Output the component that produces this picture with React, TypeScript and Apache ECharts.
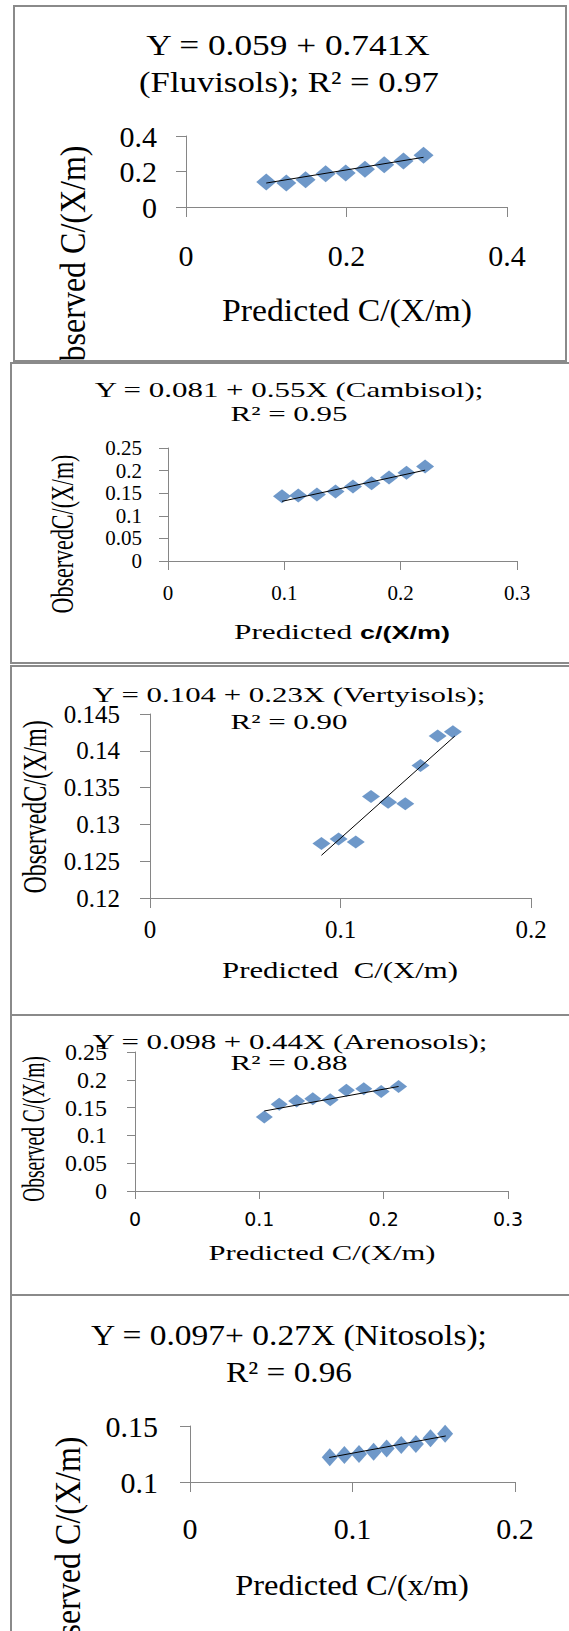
import React, { useEffect, useRef } from 'react';
import * as echarts from 'echarts';

const SERIF = "'Liberation Serif', 'Times New Roman', serif";
const SANS = "'DejaVu Sans', Verdana, sans-serif";
const ARIAL = "'Liberation Sans', Arial, sans-serif";
const MARKER = '#4A7EBB';
const AXIS = '#868686';

// ---- Data ----
const fluvisolsX = [0.100, 0.125, 0.149, 0.174, 0.199, 0.223, 0.247, 0.271, 0.296];
const fluvisolsY = [0.141, 0.135, 0.154, 0.188, 0.191, 0.212, 0.238, 0.259, 0.291];
const fluvisolsTrendX = [0.100, 0.296];
const fluvisolsTrendY = [0.135, 0.280];
const fluvisolsXRange = [0, 0.4, 0.2];
const fluvisolsYRange = [0, 0.4, 0.2];

const cambisolX = [0.098, 0.112, 0.128, 0.144, 0.159, 0.175, 0.190, 0.205, 0.221];
const cambisolY = [0.143, 0.145, 0.147, 0.154, 0.165, 0.172, 0.185, 0.195, 0.209];
const cambisolTrendX = [0.098, 0.221];
const cambisolTrendY = [0.132, 0.201];
const cambisolXRange = [0, 0.3, 0.1];
const cambisolYRange = [0, 0.25, 0.05];

const vertisolX = [0.090, 0.099, 0.108, 0.116, 0.125, 0.134, 0.142, 0.151, 0.159];
const vertisolY = [0.1274, 0.1280, 0.1276, 0.1338, 0.1330, 0.1328, 0.1380, 0.1420, 0.1426];
const vertisolTrendX = [0.090, 0.160];
const vertisolTrendY = [0.1258, 0.1420];
const vertisolXRange = [0, 0.2, 0.1];
const vertisolYRange = [0.12, 0.145, 0.005];

const arenosolX = [0.104, 0.116, 0.130, 0.143, 0.157, 0.170, 0.184, 0.198, 0.212];
const arenosolY = [0.133, 0.156, 0.162, 0.166, 0.164, 0.181, 0.184, 0.179, 0.188];
const arenosolTrendX = [0.104, 0.212];
const arenosolTrendY = [0.1439, 0.188];
const arenosolXRange = [0, 0.3, 0.1];
const arenosolYRange = [0, 0.25, 0.05];

const nitosolX = [0.086, 0.095, 0.104, 0.113, 0.121, 0.130, 0.139, 0.148, 0.157];
const nitosolY = [0.122, 0.124, 0.125, 0.127, 0.130, 0.133, 0.134, 0.139, 0.143];
const nitosolTrendX = [0.0857, 0.1574];
const nitosolTrendY = [0.1219, 0.1411];
const nitosolXRange = [0, 0.2, 0.1];
const nitosolYRange = [0.1, 0.15, 0.05];

// ---- Panel layout (page coordinates) ----
type TextSpec = { text: string; x: number; y: number; size: number; width?: number; scaleY?: number; rich?: any; family?: string };

const panels = [
  {
    box: { left: 13, top: 5, width: 554, height: 357 },
    plot: { x0: 186, x1: 507, yTop: 136, yBottom: 207 },
    xs: fluvisolsX, ys: fluvisolsY, tx: fluvisolsTrendX, ty: fluvisolsTrendY,
    xr: fluvisolsXRange, yr: fluvisolsYRange,
    symbol: [20, 17],
    tick: { xFamily: SERIF, xSize: 30, xMargin: 33, yFamily: SERIF, ySize: 30, yMargin: 29, len: 10 },
    titles: [
      { text: 'Y = 0.059 + 0.741X', x: 288, y: 45, size: 30, width: 285 },
      { text: '(Fluvisols); R² = 0.97', x: 289, y: 82, size: 30, width: 300 },
    ] as TextSpec[],
    xTitle: { text: 'Predicted C/(X/m)', x: 347, y: 310, size: 32, width: 250 } as TextSpec,
    yTitle: { text: 'Observed C/(X/m)', x: 72, y: 265, size: 32, scaleY: 1.15 } as TextSpec,
  },
  {
    box: { left: 10, top: 362, width: 565, height: 302 },
    plot: { x0: 168, x1: 517, yTop: 448, yBottom: 561 },
    xs: cambisolX, ys: cambisolY, tx: cambisolTrendX, ty: cambisolTrendY,
    xr: cambisolXRange, yr: cambisolYRange,
    symbol: [18, 14],
    tick: { xFamily: SERIF, xSize: 21, xMargin: 21, yFamily: SERIF, ySize: 21, yMargin: 26, len: 9 },
    titles: [
      { text: 'Y = 0.081 + 0.55X (Cambisol);', x: 289, y: 390, size: 22, width: 390 },
      { text: 'R² = 0.95', x: 289, y: 414, size: 22, width: 117 },
    ] as TextSpec[],
    xTitle: {
      text: '{a|Predicted }{b|c/(X/m)}', x: 342, y: 632, size: 22, width: 216,
      rich: {
        a: { fontFamily: SERIF, fontSize: 22, fill: '#000' },
        b: { fontFamily: ARIAL, fontSize: 19, fontWeight: 'bold', fill: '#000' },
      },
    } as TextSpec,
    yTitle: { text: 'ObservedC/(X/m)', x: 63, y: 534, size: 22, scaleY: 1.45 } as TextSpec,
  },
  {
    box: { left: 10, top: 665, width: 565, height: 351 },
    plot: { x0: 150, x1: 531, yTop: 714, yBottom: 898 },
    xs: vertisolX, ys: vertisolY, tx: vertisolTrendX, ty: vertisolTrendY,
    xr: vertisolXRange, yr: vertisolYRange,
    symbol: [18, 13],
    tick: { xFamily: SERIF, xSize: 25, xMargin: 19, yFamily: SERIF, ySize: 25, yMargin: 30, len: 10 },
    titles: [
      { text: 'Y = 0.104 + 0.23X (Vertyisols);', x: 289, y: 695, size: 22, width: 394 },
      { text: 'R² = 0.90', x: 289, y: 722, size: 22, width: 117 },
    ] as TextSpec[],
    xTitle: { text: 'Predicted  C/(X/m)', x: 340, y: 970, size: 24, width: 236 } as TextSpec,
    yTitle: { text: 'ObservedC/(X/m)', x: 34, y: 807, size: 24, scaleY: 1.4 } as TextSpec,
  },
  {
    box: { left: 10, top: 1014, width: 565, height: 282 },
    plot: { x0: 135, x1: 508, yTop: 1052, yBottom: 1191 },
    xs: arenosolX, ys: arenosolY, tx: arenosolTrendX, ty: arenosolTrendY,
    xr: arenosolXRange, yr: arenosolYRange,
    symbol: [17, 13],
    tick: { xFamily: SANS, xSize: 19, xMargin: 18, yFamily: SERIF, ySize: 24, yMargin: 28, len: 8 },
    titles: [
      { text: 'Y = 0.098 + 0.44X (Arenosols);', x: 290, y: 1042, size: 21, width: 396 },
      { text: 'R² = 0.88', x: 289, y: 1063, size: 21, width: 117 },
    ] as TextSpec[],
    xTitle: { text: 'Predicted C/(X/m)', x: 322, y: 1253, size: 20, width: 227 } as TextSpec,
    yTitle: { text: 'Observed C/(X/m)', x: 34, y: 1129, size: 19.5, scaleY: 1.6 } as TextSpec,
  },
  {
    box: { left: 10, top: 1294, width: 565, height: 345 },
    plot: { x0: 190, x1: 515, yTop: 1426, yBottom: 1482 },
    xs: nitosolX, ys: nitosolY, tx: nitosolTrendX, ty: nitosolTrendY,
    xr: nitosolXRange, yr: nitosolYRange,
    symbol: [16, 18],
    tick: { xFamily: SERIF, xSize: 30, xMargin: 31, yFamily: SERIF, ySize: 30, yMargin: 32, len: 10 },
    titles: [
      { text: 'Y = 0.097+ 0.27X (Nitosols);', x: 289, y: 1335, size: 30, width: 397 },
      { text: 'R² = 0.96', x: 289, y: 1372, size: 30, width: 126 },
    ] as TextSpec[],
    xTitle: { text: 'Predicted C/(x/m)', x: 352, y: 1585, size: 30, width: 234 } as TextSpec,
    yTitle: { text: 'Observed C/(X/m)', x: 68, y: 1556, size: 32, scaleY: 1.1 } as TextSpec,
  },
];

let measureCtx: CanvasRenderingContext2D | null = null;
function measure(text: string, size: number, family: string, weight = 'normal') {
  if (!measureCtx) measureCtx = document.createElement('canvas').getContext('2d');
  if (!measureCtx) return text.length * size * 0.5;
  measureCtx.font = `${weight} ${size}px ${family}`;
  return measureCtx.measureText(text).width;
}

function fmt(v: number) {
  return String(parseFloat(v.toFixed(4)));
}

function buildOption(p: any) {
  const ox = p.box.left + 2;
  const oy = p.box.top + 2;
  const textEl = (t: TextSpec, rotate = false) => {
    let scaleX = 1;
    if (t.width) {
      let natural: number;
      if (t.rich) {
        natural = measure('Predicted ', t.rich.a.fontSize, SERIF) + measure('c/(X/m)', t.rich.b.fontSize, ARIAL, 'bold');
      } else {
        natural = measure(t.text, t.size, t.family || SERIF);
      }
      scaleX = t.width / natural;
    }
    const style: any = {
      text: t.text,
      fontFamily: t.family || SERIF,
      fontSize: t.size,
      fill: '#000',
      align: 'center',
      verticalAlign: 'middle',
      textAlign: 'center',
      textVerticalAlign: 'middle',
    };
    if (t.rich) style.rich = t.rich;
    return {
      type: 'text',
      x: t.x - ox,
      y: t.y - oy,
      rotation: rotate ? Math.PI / 2 : 0,
      scaleX: rotate ? 1 : scaleX,
      scaleY: rotate ? (t.scaleY || 1) : 1,
      z: 10,
      style,
    };
  };
  const axisCommon = (fam: string, size: number, margin: number, len: number) => ({
    type: 'value',
    axisLine: { show: true, onZero: false, lineStyle: { color: AXIS, width: 1 } },
    axisTick: { show: true, inside: false, length: len, lineStyle: { color: AXIS, width: 1 } },
    splitLine: { show: false },
    axisLabel: { margin, fontFamily: fam, fontSize: size, color: '#000', formatter: fmt },
  });
  return {
    animation: false,
    grid: {
      left: p.plot.x0 - ox,
      top: p.plot.yTop - oy,
      width: p.plot.x1 - p.plot.x0,
      height: p.plot.yBottom - p.plot.yTop,
      containLabel: false,
    },
    xAxis: {
      ...axisCommon(p.tick.xFamily, p.tick.xSize, p.tick.xMargin, p.tick.len),
      min: p.xr[0], max: p.xr[1], interval: p.xr[2],
    },
    yAxis: {
      ...axisCommon(p.tick.yFamily, p.tick.ySize, p.tick.yMargin, p.tick.len),
      min: p.yr[0], max: p.yr[1], interval: p.yr[2],
    },
    series: [
      {
        type: 'scatter',
        symbol: 'diamond',
        symbolSize: p.symbol,
        itemStyle: { color: MARKER },
        data: p.xs.map((x: number, i: number) => [x, p.ys[i]]),
        z: 2,
      },
      {
        type: 'line',
        symbol: 'none',
        lineStyle: { color: '#000', width: 1 },
        data: p.tx.map((x: number, i: number) => [x, p.ty[i]]),
        z: 3,
      },
    ],
    graphic: [
      ...p.titles.map((t: TextSpec) => textEl(t)),
      textEl(p.xTitle),
      textEl(p.yTitle, true),
    ],
  };
}

function Panel({ p }: { p: any }) {
  const ref = useRef<HTMLDivElement>(null);
  useEffect(() => {
    if (!ref.current) return;
    const chart = echarts.init(ref.current, null, { renderer: 'svg' });
    chart.setOption(buildOption(p));
    return () => chart.dispose();
  }, [p]);
  return (
    <div
      style={{
        position: 'absolute',
        left: p.box.left,
        top: p.box.top,
        width: p.box.width,
        height: p.box.height,
        border: '2px solid #8a8a8a',
        boxSizing: 'border-box',
        background: '#fff',
        overflow: 'hidden',
      }}
    >
      <div ref={ref} style={{ width: p.box.width - 4, height: p.box.height - 4 }} />
    </div>
  );
}

export default function App() {
  return (
    <div style={{ position: 'absolute', left: 0, top: 0, width: 569, height: 1631, overflow: 'hidden', background: '#fff' }}>
      {panels.map((p, i) => (
        <Panel key={i} p={p} />
      ))}
    </div>
  );
}
